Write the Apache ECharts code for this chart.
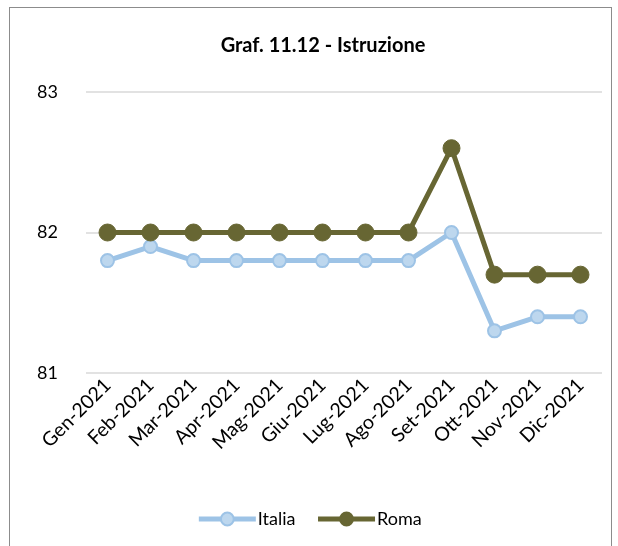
<!DOCTYPE html>
<html>
<head>
<meta charset="utf-8">
<script src="https://cdn.jsdelivr.net/npm/echarts@6/dist/echarts.min.js"></script>
<style>
	html, body { margin: 0; padding: 0; background: #fff; }
	#frame {
		position: absolute;
		left: 9px; top: 7px;
		width: 603px; height: 560px;
		border: 1px solid #8c8c8c;
		box-sizing: border-box;
	}
	#chart { position: absolute; left: 0; top: 0; width: 618px; height: 546px; }
</style>
</head>
<body>
<div id="frame"></div>
<div id="chart"></div>
<script>
	// data
	const months = ['Gen-2021', 'Feb-2021', 'Mar-2021', 'Apr-2021', 'Mag-2021', 'Giu-2021',
		'Lug-2021', 'Ago-2021', 'Set-2021', 'Ott-2021', 'Nov-2021', 'Dic-2021']
	const italia = [81.8, 81.9, 81.8, 81.8, 81.8, 81.8, 81.8, 81.8, 82.0, 81.3, 81.4, 81.4]
	const roma = [82.0, 82.0, 82.0, 82.0, 82.0, 82.0, 82.0, 82.0, 82.6, 81.7, 81.7, 81.7]

	const font = 'Lato, "Open Sans", sans-serif'
	const chart = echarts.init(document.getElementById('chart'))

	chart.setOption({
		animation: false,
		title: {
			text: 'Graf. 11.12 - Istruzione',
			left: 318,
			top: 31,
			textAlign: 'center',
			textStyle: { fontFamily: font, fontSize: 20, fontWeight: 'bold', color: '#000' }
		},
		legend: {
			top: 505,
			left: 'center',
			itemWidth: 57,
			itemHeight: 16,
			itemGap: 20,
			textStyle: { fontFamily: font, fontSize: 18, color: '#000', padding: [0, 0, 0, -3] },
			data: [
				{ name: 'Italia', lineStyle: { width: 5 } },
				{ name: 'Roma', lineStyle: { width: 5 } }
			]
		},
		grid: { left: 86, right: 16, top: 92, bottom: 173 },
		xAxis: {
			type: 'category',
			data: months,
			boundaryGap: true,
			axisLine: { show: false },
			axisTick: { show: false },
			axisLabel: {
				rotate: 45,
				margin: 9,
				interval: 0,
				fontFamily: font,
				fontSize: 19.5,
				color: '#000'
			}
		},
		yAxis: {
			type: 'value',
			min: 81,
			max: 83,
			interval: 1,
			axisLabel: { fontFamily: font, fontSize: 18, color: '#000', margin: 28 },
			splitLine: { lineStyle: { color: '#d9d9d9', width: 1.5 } }
		},
		series: [{
				name: 'Italia',
				type: 'line',
				data: italia,
				symbol: 'circle',
				symbolSize: 13,
				lineStyle: { color: '#9dc3e6', width: 5 },
				itemStyle: { color: '#bdd7ee', borderColor: '#9dc3e6', borderWidth: 2 }
			},
			{
				name: 'Roma',
				type: 'line',
				data: roma,
				symbol: 'circle',
				symbolSize: 17,
				lineStyle: { color: '#676633', width: 5 },
				itemStyle: { color: '#676633', borderColor: '#676633', borderWidth: 1 }
			}
		]
	})
</script>
</body>
</html>
